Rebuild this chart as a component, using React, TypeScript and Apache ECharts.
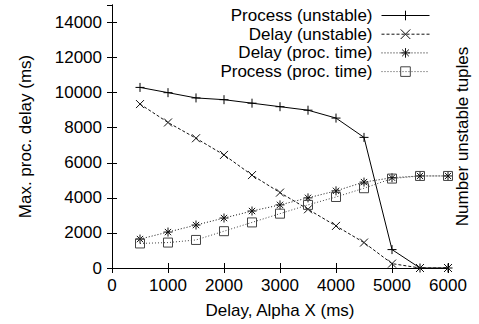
import React, { useEffect, useRef } from "react";
import * as echarts from "echarts";

const xValues = [500, 1000, 1500, 2000, 2500, 3000, 3500, 4000, 4500, 5000, 5500, 6000];
const processUnstable = [10300, 10000, 9700, 9600, 9400, 9200, 9000, 8550, 7450, 1050, 0, 0];
const delayUnstable = [9350, 8300, 7400, 6450, 5300, 4300, 3350, 2400, 1450, 250, 0, 0];
const delayProcTime = [1650, 2050, 2450, 2850, 3250, 3600, 4000, 4400, 4900, 5150, 5250, 5250];
const processProcTime = [1400, 1450, 1600, 2100, 2600, 3100, 3600, 4050, 4550, 5100, 5250, 5250];
const seriesNames = ["Process (unstable)", "Delay (unstable)", "Delay (proc. time)", "Process (proc. time)"];

const FONT = "'Liberation Sans', Arial, Helvetica, sans-serif";

const PLUS = "path://M5 0L5 10M0 5L10 5";
const CROSS = "path://M0 0L10 10M10 0L0 10";
const STAR = "path://M5 0L5 10M0 5L10 5M1.5 1.5L8.5 8.5M8.5 1.5L1.5 8.5";
const SQUARE = "path://M0 0L10 0L10 10L0 10Z";

export default function App() {
  const ref = useRef<HTMLDivElement>(null);
  useEffect(() => {
    if (!ref.current) return;
    const chart = echarts.init(ref.current, undefined, { renderer: "svg" });
    const pair = (ys: number[]) => xValues.map((x, i) => [x, ys[i]]);
    const mk = (name: string, ys: number[], symbol: string, size: number, type: any, color: string) => ({
      name,
      type: "line",
      data: pair(ys),
      symbol,
      symbolSize: size,
      showSymbol: true,
      lineStyle: { color, width: 1, type },
      itemStyle: { color: "transparent", borderColor: color, borderWidth: 1 },
      emphasis: { disabled: true },
    });
    const axisLine = { show: true, lineStyle: { color: "#000", width: 1 } };
    const tick = { show: true, inside: true, length: 5, lineStyle: { color: "#000", width: 1 } };
    chart.setOption({
      animation: false,
      textStyle: { fontFamily: FONT },
      grid: { left: 112, right: 30, top: 5, bottom: 56, containLabel: false },
      legend: {
        data: seriesNames,
        orient: "vertical",
        align: "right",
        right: 49,
        top: 7,
        padding: 0,
        itemWidth: 48,
        itemHeight: 12,
        itemGap: 1.7,
        itemStyle: { borderWidth: 1 },
        lineStyle: { width: 1, type: "inherit", color: "inherit" },
        textStyle: { fontFamily: FONT, fontSize: 17, color: "#000", padding: [0, 4, 0, 0] },
      },
      xAxis: [
        {
          type: "value",
          min: 0,
          max: 6000,
          interval: 1000,
          name: "Delay, Alpha X (ms)",
          nameLocation: "middle",
          nameGap: 34,
          nameTextStyle: { fontFamily: FONT, fontSize: 17, color: "#000" },
          axisLine,
          axisTick: tick,
          axisLabel: {
            fontFamily: FONT,
            fontSize: 17,
            color: "#000",
            margin: 9,
            formatter: (v: number) => String(v),
          },
          splitLine: { show: false },
        },
        {
          type: "value",
          position: "top",
          min: 0,
          max: 6000,
          interval: 1000,
          axisLine,
          axisTick: tick,
          axisLabel: { show: false },
          splitLine: { show: false },
        },
      ],
      yAxis: [
        {
          type: "value",
          min: 0,
          max: 15000,
          interval: 2000,
          name: "Max. proc. delay (ms)",
          nameLocation: "middle",
          nameGap: 78,
          nameTextStyle: { fontFamily: FONT, fontSize: 17, color: "#000" },
          axisLine,
          axisTick: tick,
          axisLabel: {
            fontFamily: FONT,
            fontSize: 17,
            color: "#000",
            margin: 10,
            showMaxLabel: false,
            formatter: (v: number) => (v > 14000 ? "" : String(v)),
          },
          splitLine: { show: false },
        },
        {
          type: "value",
          position: "right",
          min: 0,
          max: 15000,
          interval: 2000,
          name: "Number unstable tuples",
          nameLocation: "middle",
          nameGap: 6,
          nameTextStyle: { fontFamily: FONT, fontSize: 17, color: "#000" },
          axisLine,
          axisTick: tick,
          axisLabel: { show: false },
          splitLine: { show: false },
        },
      ],
      series: [
        mk(seriesNames[0], processUnstable, PLUS, 9, "solid", "#000"),
        mk(seriesNames[1], delayUnstable, CROSS, 8, [3, 2], "#111"),
        mk(seriesNames[2], delayProcTime, STAR, 9, [1, 2], "#111"),
        mk(seriesNames[3], processProcTime, SQUARE, 9, [1, 2], "#444"),
      ],
    });
    return () => chart.dispose();
  }, []);
  return (
    <div
      ref={ref}
      style={{ position: "fixed", left: 0, top: 0, width: 479, height: 324, background: "#fff" }}
    />
  );
}
